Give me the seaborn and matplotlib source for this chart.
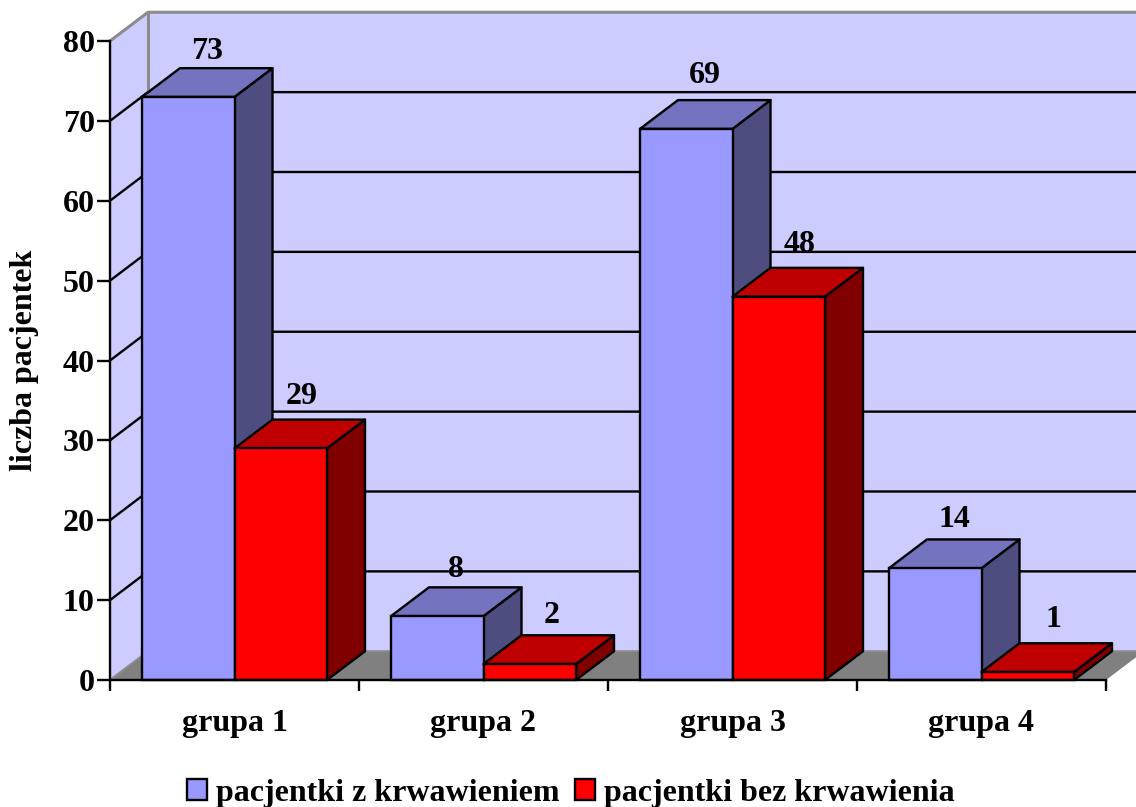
import matplotlib
matplotlib.use("Agg")
import matplotlib.pyplot as plt
import pandas as pd
import seaborn as sns
from matplotlib.patches import Polygon

# Patient counts per group
groups = ["grupa 1", "grupa 2", "grupa 3", "grupa 4"]
series_names = ["pacjentki z krwawieniem", "pacjentki bez krwawienia"]
with_bleeding = [73, 8, 69, 14]
without_bleeding = [29, 2, 48, 1]
y_ticks = [0, 10, 20, 30, 40, 50, 60, 70, 80]

# Fine placement of the value captions, in pixels (one row per series)
caption_lift = [[45, 47, 53, 49], [52, 49, 52, 53]]
caption_shift = [[0, 0, 0, 0], [2, 3, 2, 7]]

front_colors = ["#9999FF", "#FF0000"]
top_colors = ["#7373BF", "#BF0000"]
side_colors = ["#4D4D80", "#800000"]
WALL = "#CCCCFF"
FLOOR = "#808080"
WALL_EDGE = "#8C8C8C"
EDGE_LW = 1.7

sns.set_style("white")
plt.rcParams["font.family"] = ["Liberation Serif", "DejaVu Serif"]
plt.rcParams["font.weight"] = "bold"
plt.rcParams["text.color"] = "black"
plt.rcParams["xtick.color"] = "black"
plt.rcParams["ytick.color"] = "black"

W, H = 1136, 807
fig = plt.figure(figsize=(W / 100, H / 100), dpi=100)
ax = fig.add_axes([110 / W, (H - 680) / H, (1106 - 110) / W, (680 - 41) / H])

df = pd.DataFrame({
    "grupa": groups * 2,
    "seria": [series_names[0]] * 4 + [series_names[1]] * 4,
    "liczba": with_bleeding + without_bleeding,
})
sns.barplot(
    data=df, x="grupa", y="liczba", hue="seria", order=groups, hue_order=series_names,
    palette=front_colors, saturation=1, width=0.743, gap=0,
    edgecolor="black", linewidth=EDGE_LW, ax=ax,
)
ax.set_xlim(-0.5, 3.5)
ax.set_ylim(0, 80)

# Oblique depth of the box, expressed in data units
DX = 38 / 249
DY = 3.6
x0, x1 = ax.get_xlim()
clip = dict(clip_on=False)

# Back wall, side wall and floor
ax.add_patch(Polygon([(x0, 0), (x0 + DX, DY), (x0 + DX, 80 + DY), (x0, 80)],
                     fc=WALL, ec="none", zorder=0.1, **clip))
ax.add_patch(Polygon([(x0 + DX, DY), (x1 + DX, DY), (x1 + DX, 80 + DY), (x0 + DX, 80 + DY)],
                     fc=WALL, ec="none", zorder=0.1, **clip))
ax.add_patch(Polygon([(x0, 0), (x1, 0), (x1 + DX, DY), (x0 + DX, DY)],
                     fc=FLOOR, ec="none", zorder=0.2, **clip))

# Gridlines wrapping round the side and back walls
for v in y_ticks[1:-1]:
    ax.plot([x0, x0 + DX, x1 + DX], [v, v + DY, v + DY], color="black", lw=EDGE_LW,
            zorder=0.3, solid_joinstyle="miter", **clip)
ax.plot([x0, x0 + DX, x1 + DX], [80, 80 + DY, 80 + DY], color=WALL_EDGE, lw=2.2, zorder=0.3, **clip)
ax.plot([x0 + DX, x0 + DX], [DY, 80 + DY], color=WALL_EDGE, lw=2.2, zorder=0.31, **clip)
ax.plot([x0, x0 + DX, x1 + DX], [0, DY, DY], color=WALL_EDGE, lw=1.5, zorder=0.31, **clip)

# Extrude each bar: side and top faces sit behind its front, series by series
for s, container in enumerate(ax.containers):
    z = 1.0 + s
    for g, bar in enumerate(container):
        left, w, h = bar.get_x(), bar.get_width(), bar.get_height()
        right = left + w
        ax.add_patch(Polygon([(right, 0), (right + DX, DY), (right + DX, h + DY), (right, h)],
                             fc=side_colors[s], ec="black", lw=EDGE_LW, joinstyle="round",
                             zorder=z, **clip))
        ax.add_patch(Polygon([(left, h), (right, h), (right + DX, h + DY), (left + DX, h + DY)],
                             fc=top_colors[s], ec="black", lw=EDGE_LW, joinstyle="round",
                             zorder=z + 0.1, **clip))
        bar.set_zorder(z + 0.2)
        bar.set_clip_on(False)
        ax.annotate(
            f"{h:.0f}",
            xy=(left + w / 2 + DX / 2, h),
            xytext=(caption_shift[s][g], caption_lift[s][g]),
            textcoords="offset pixels", ha="center", va="center",
            fontsize=23, fontweight="bold", color="black",
            zorder=5, annotation_clip=False,
        )

# Axes furniture
for name in ("top", "right"):
    ax.spines[name].set_visible(False)
for name in ("left", "bottom"):
    ax.spines[name].set_linewidth(EDGE_LW)
    ax.spines[name].set_color("black")
    ax.spines[name].set_zorder(4)

ax.set_yticks(y_ticks)
ax.tick_params(axis="y", left=True, length=9.5, width=EDGE_LW, pad=1.5, labelsize=23)
ax.set_xticks([-0.5, 0.5, 1.5, 2.5, 3.5])
ax.set_xticklabels([])
ax.set_xticks([0, 1, 2, 3], groups, minor=True)
ax.tick_params(axis="x", which="major", bottom=True, length=8, width=EDGE_LW)
ax.tick_params(axis="x", which="minor", bottom=False, length=0, pad=21, labelsize=23)
ax.set_xlabel("")
ax.set_ylabel("")
fig.text(25 / W, 1 - 360 / H, "liczba pacjentek", rotation=90, ha="center", va="center",
         fontsize=23, fontweight="bold")

sns.move_legend(
    ax, "center", bbox_to_anchor=(571 / W, 1 - 793 / H), bbox_transform=fig.transFigure,
    ncol=2, frameon=False, title=None, prop=dict(size=23, weight="bold"),
    handlelength=0.62, handleheight=0.62, handletextpad=0.28, columnspacing=0.5,
)

fig.savefig("out.png", dpi=100, facecolor="white")
